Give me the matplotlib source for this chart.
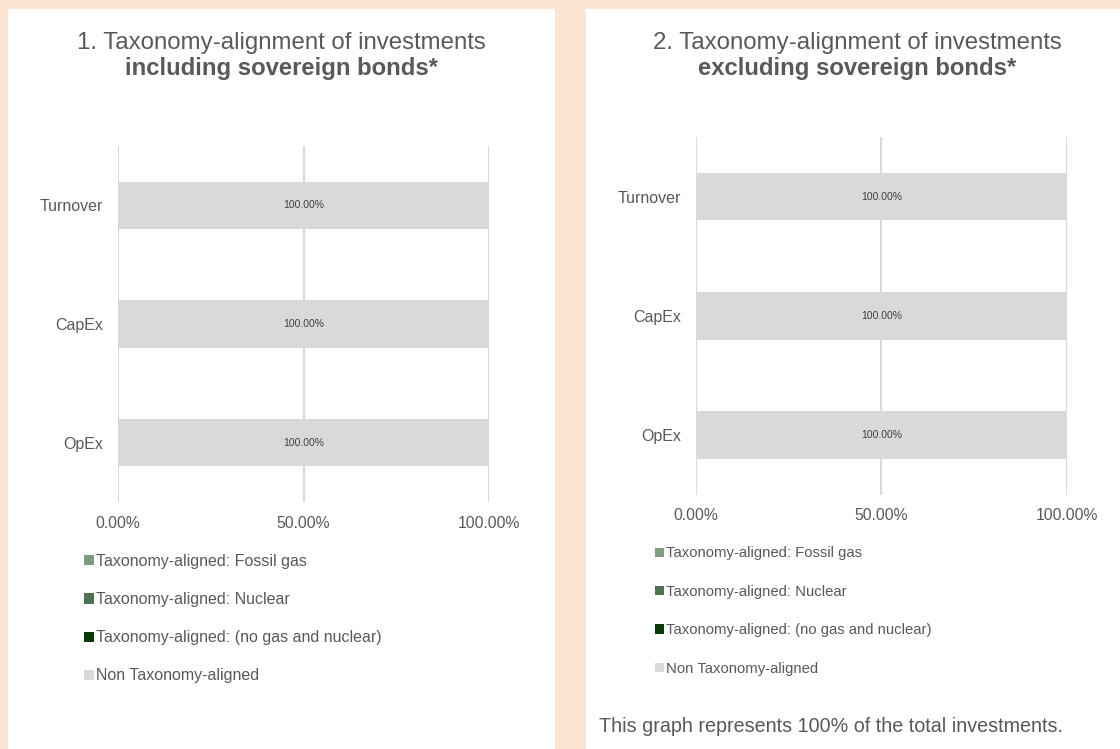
import matplotlib
matplotlib.use("Agg")
import matplotlib.pyplot as plt
from matplotlib.patches import Rectangle
import numpy as np

plt.rcParams['font.family'] = ['Liberation Sans', 'DejaVu Sans']

# ---- data ----
categories = ["Turnover", "CapEx", "OpEx"]
series_names = ["Taxonomy-aligned: Fossil gas",
                "Taxonomy-aligned: Nuclear",
                "Taxonomy-aligned: (no gas and nuclear)",
                "Non Taxonomy-aligned"]
series_colors = ["#809C80", "#4F7352", "#0A3A0A", "#D9D9D9"]
# values in % per category (Turnover, CapEx, OpEx)
incl_fossil = [0.0, 0.0, 0.0]
incl_nuclear = [0.0, 0.0, 0.0]
incl_aligned = [0.0, 0.0, 0.0]
incl_non = [100.0, 100.0, 100.0]
excl_fossil = [0.0, 0.0, 0.0]
excl_nuclear = [0.0, 0.0, 0.0]
excl_aligned = [0.0, 0.0, 0.0]
excl_non = [100.0, 100.0, 100.0]
x_ticks = [0, 50, 100]
x_tick_labels = ["0.00%", "50.00%", "100.00%"]
title1_a = "1. Taxonomy-alignment of investments"
title1_b = "including sovereign bonds*"
title2_a = "2. Taxonomy-alignment of investments"
title2_b = "excluding sovereign bonds*"
footer = "This graph represents 100% of the total investments."

TXT = "#595959"
W, H = 1120, 749
fig = plt.figure(figsize=(W / 100, H / 100), dpi=100)
fig.patch.set_facecolor("#FBE6D6")

def fx(px):
    return px / W

def fy(py):
    return 1 - py / H

# white panels
fig.patches.append(Rectangle((fx(8), 0), fx(555 - 8), fy(9), transform=fig.transFigure,
                             facecolor="white", edgecolor="none", zorder=-5))
fig.patches.append(Rectangle((fx(586), 0), fx(1120 - 586), fy(9), transform=fig.transFigure,
                             facecolor="white", edgecolor="none", zorder=-5))


def draw_chart(rect, series, label_pad, tick_pad):
    ax = fig.add_axes(rect)
    ax.set_facecolor("none")
    ax.set_zorder(2)
    y = np.arange(len(categories))
    left = np.zeros(len(categories))
    containers = []
    for name, vals, col in zip(series_names, series, series_colors):
        vals = np.array(vals)
        c = ax.barh(y, vals, left=left, height=0.4, color=col, label=name, zorder=2)
        containers.append(c)
        for yi, (l, v) in enumerate(zip(left, vals)):
            if v > 0:
                ax.text(l + v / 2, yi, f"{v:.2f}%", ha="center", va="center",
                        fontsize=7.5, color="#404040", zorder=3)
        left = left + vals
    ax.set_xlim(0, 100)
    ax.set_ylim(len(categories) - 0.5, -0.5)
    ax.set_yticks(y)
    ax.set_yticklabels(categories)
    ax.set_xticks(x_ticks)
    ax.set_xticklabels(x_tick_labels)
    ax.tick_params(axis="y", length=0, pad=label_pad, labelsize=11.5, labelcolor=TXT)
    ax.tick_params(axis="x", length=0, pad=tick_pad, labelsize=11.3, labelcolor=TXT)
    for s in ax.spines.values():
        s.set_visible(False)
    ax.grid(axis="x", color="#D9D9D9", linewidth=1.5, zorder=1)
    ax.set_axisbelow(True)
    return ax, containers


axL, consL = draw_chart([fx(118), fy(502), fx(489 - 118), (502 - 146) / H],
                        [incl_fossil, incl_nuclear, incl_aligned, incl_non], 10.8, 10.3)
axR, consR = draw_chart([fx(696), fy(494.5), fx(1066.5 - 696), (494.5 - 137) / H],
                        [excl_fossil, excl_nuclear, excl_aligned, excl_non], 10.8, 9.8)

# titles
fig.text(fx(281.5), fy(49), title1_a, ha="center", va="baseline", fontsize=17.3, color=TXT)
fig.text(fx(281.5), fy(74.5), title1_b, ha="center", va="baseline", fontsize=17.2,
         color=TXT, fontweight="bold")
fig.text(fx(857.5), fy(49), title2_a, ha="center", va="baseline", fontsize=17.3, color=TXT)
fig.text(fx(857.5), fy(74.5), title2_b, ha="center", va="baseline", fontsize=17.2,
         color=TXT, fontweight="bold")

# legends
fig.legend(handles=consL, labels=series_names, loc="upper left",
           bbox_to_anchor=(fx(84), fy(554)), frameon=False, fontsize=11.5,
           labelcolor=TXT, handlelength=0.6, handleheight=0.6, handletextpad=0.15,
           labelspacing=1.45, borderpad=0, borderaxespad=0)
fig.legend(handles=consR, labels=series_names, loc="upper left",
           bbox_to_anchor=(fx(655), fy(546.5)), frameon=False, fontsize=10.7,
           labelcolor=TXT, handlelength=0.6, handleheight=0.6, handletextpad=0.15,
           labelspacing=1.64, borderpad=0, borderaxespad=0)

fig.text(fx(599), fy(727), footer, ha="left", va="center", fontsize=14.2, color=TXT)

fig.savefig("out.png", dpi=100, facecolor=fig.get_facecolor())
